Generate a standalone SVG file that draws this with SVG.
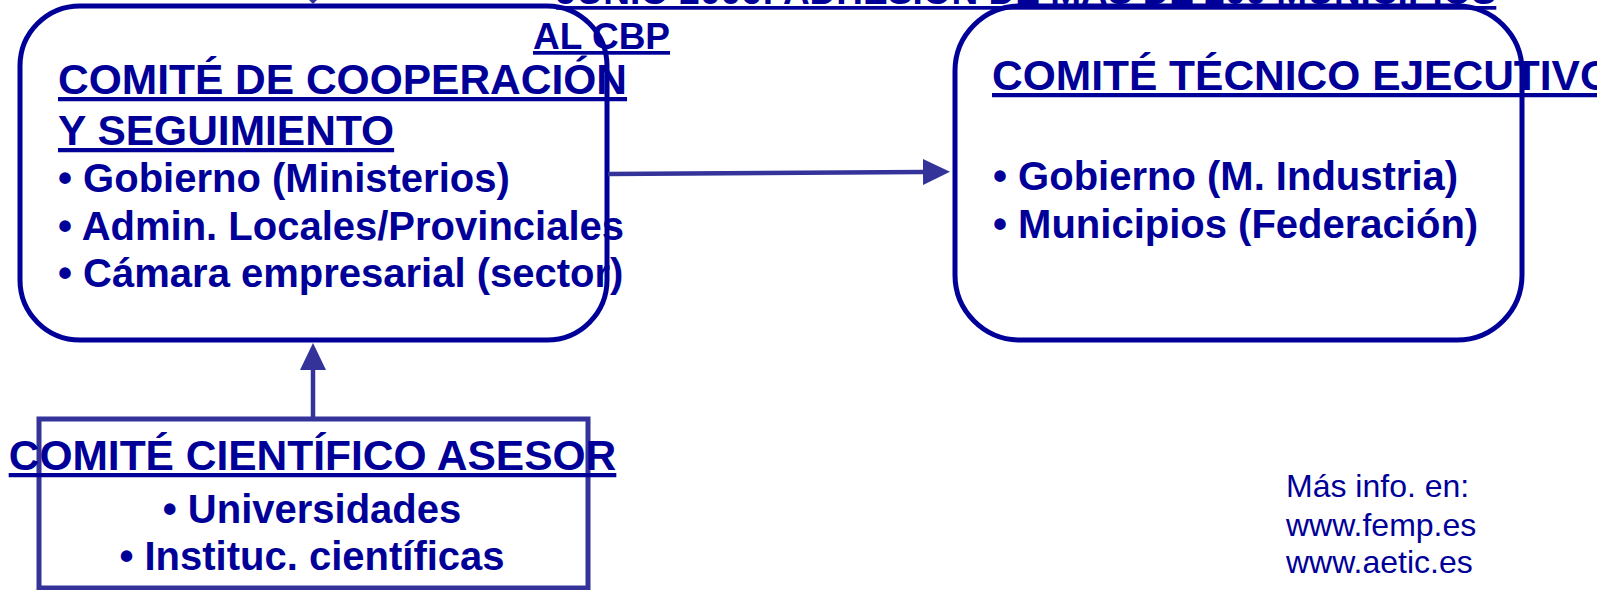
<svg xmlns="http://www.w3.org/2000/svg" width="1597" height="590" viewBox="0 0 1597 590">
  <style>
    .t { font-family: "Liberation Sans", Arial, sans-serif; font-weight: bold; fill: #000099; }
    .h { font-size: 42.5px; text-decoration: underline; }
    .ht { font-size: 37px; text-decoration: underline; }
    .b { font-size: 40px; }
    .info { font-family: "Liberation Sans", Arial, sans-serif; font-size: 32px; fill: #000099; }
    .box { fill: none; stroke: #000099; stroke-width: 5; }
    .rect { fill: none; stroke: #333399; stroke-width: 5; }
    .conn { fill: none; stroke: #333399; stroke-width: 4.5; }
  </style>
  <defs>
    <marker id="arr" markerUnits="userSpaceOnUse" markerWidth="27" markerHeight="26" viewBox="0 0 27 26" refX="0" refY="13" orient="auto">
      <path d="M0,0 L27,13 L0,26 z" fill="#333399"/>
    </marker>
  </defs>
  <rect width="1597" height="590" fill="#ffffff"/>

  <g id="titulo">
    <text class="t ht" x="556" y="4">JUNIO 2006: ADHESIÓN DE MÁS DE 200 MUNICIPIOS</text>
    <text class="t ht" x="533" y="49">AL CBP</text>
  </g>

  <g id="comite-cooperacion">
    <rect class="box" x="20" y="6" width="587" height="334" rx="60" ry="60"/>
    <text class="t h" x="58" y="94">COMITÉ DE COOPERACIÓN</text>
    <text class="t h" x="58" y="145">Y SEGUIMIENTO</text>
    <text class="t b" x="58" y="192">• Gobierno (Ministerios)</text>
    <text class="t b" x="58" y="240">• Admin. Locales/Provinciales</text>
    <text class="t b" x="58" y="287">• Cámara empresarial (sector)</text>
  </g>

  <g id="comite-tecnico">
    <rect class="box" x="955" y="6" width="567" height="334" rx="65" ry="65"/>
    <text class="t h" x="992" y="90">COMITÉ TÉCNICO EJECUTIVO</text>
    <text class="t b" x="993" y="190">• Gobierno (M. Industria)</text>
    <text class="t b" x="993" y="238">• Municipios (Federación)</text>
  </g>

  <g id="comite-cientifico">
    <rect class="rect" x="39" y="419" width="549" height="169"/>
    <text class="t h" x="312.5" y="470" text-anchor="middle">COMITÉ CIENTÍFICO ASESOR</text>
    <text class="t b" x="312" y="523" text-anchor="middle">• Universidades</text>
    <text class="t b" x="312" y="570" text-anchor="middle">• Instituc. científicas</text>
  </g>

  <g id="info">
    <text class="info" x="1286" y="497">Más info. en:</text>
    <text class="info" x="1286" y="536">www.femp.es</text>
    <text class="info" x="1286" y="573">www.aetic.es</text>
  </g>

  <g id="connectors">
    <path class="conn" d="M608,174 L923,172" marker-end="url(#arr)"/>
    <path class="conn" d="M313,419 L313,370" marker-end="url(#arr)"/>
    <path d="M309,0 L317,0 L313,4 z" fill="#333399"/>
  </g>
</svg>
